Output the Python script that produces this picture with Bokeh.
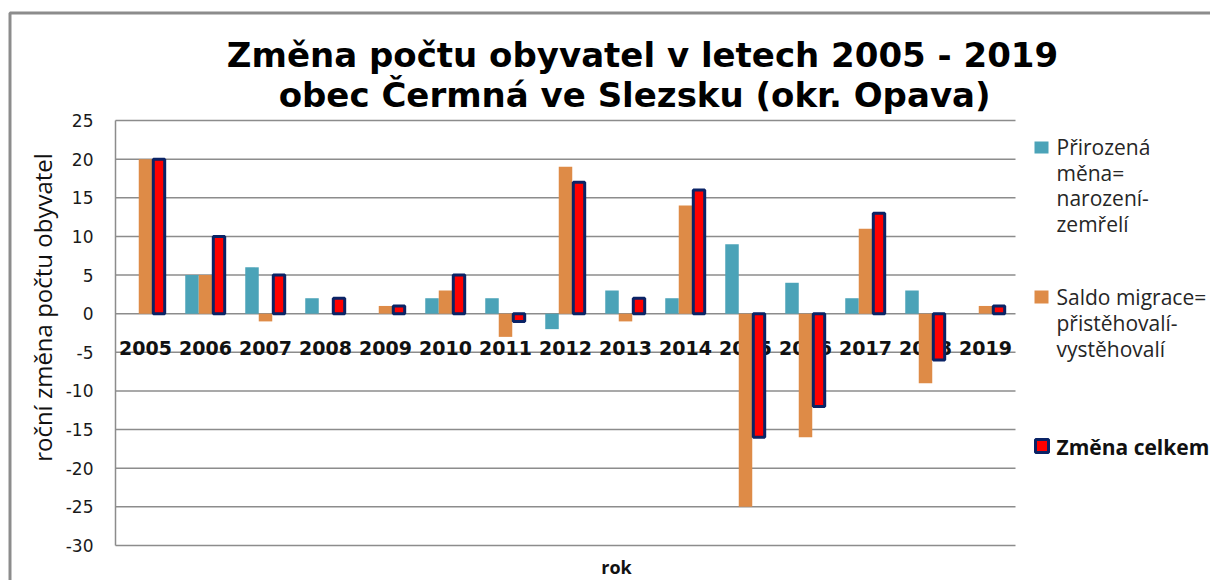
import math
from bokeh.plotting import figure
from bokeh.models import Range1d, Label, BoxAnnotation, ColumnDataSource, FixedTicker
from bokeh.transform import dodge
from bokeh.core.properties import value
from bokeh.embed import file_html
from bokeh.resources import INLINE

years = ["2005", "2006", "2007", "2008", "2009", "2010", "2011", "2012",
         "2013", "2014", "2015", "2016", "2017", "2018", "2019"]
natural = [0, 5, 6, 2, 0, 2, 2, -2, 3, 2, 9, 4, 2, 3, 0]
migration = [20, 5, -1, 0, 1, 3, -3, 19, -1, 14, -25, -16, 11, -9, 1]
total = [20, 10, 5, 2, 1, 5, -1, 17, 2, 16, -16, -12, 13, -6, 1]
y_ticks = [-30, -25, -20, -15, -10, -5, 0, 5, 10, 15, 20, 25]

title_lines = ["Změna počtu obyvatel v letech 2005 - 2019",
               "obec  Čermná ve Slezsku (okr. Opava)"]
y_label = "roční změna počtu obyvatel"
x_label = "rok"
legend_natural = ["Přirozená", "měna=", "narození-", "zemřelí"]
legend_migration = ["Saldo migrace=", "přistěhovalí-", "vystěhovalí"]
legend_total = "Změna celkem"

TEAL = "#4BA3B8"
ORANGE = "#DE8B47"
RED = "#FF0000"
NAVY = "#0A2366"
GRID = "#8C8C8C"

# ---- layout: pixel <-> data mapping (whole canvas is the frame) ----
W, H = 1210, 580
PX_X0, CAT_PX = 115.0, 60.0          # left of first category, width of one category
PX_Y_TOP, PX_Y_BOT = 120.0, 545.0    # pixel rows of 25 and -30
Y_TOP, Y_BOT = 25.0, -30.0
PPU = (PX_Y_BOT - PX_Y_TOP) / (Y_TOP - Y_BOT)


def xd(px):
    return (px - PX_X0) / CAT_PX


def yd(py):
    return Y_TOP - (py - PX_Y_TOP) / PPU


p = figure(width=W, height=H, x_range=Range1d(xd(0), xd(W)), y_range=Range1d(yd(H), yd(0)),
           output_backend="svg", toolbar_location=None, min_border=0)
p.title.visible = False
p.outline_line_color = None
p.background_fill_color = "white"
p.border_fill_color = "white"
p.xaxis.visible = False
p.grid.visible = False

yax = p.yaxis[0]
yax.fixed_location = 0
yax.bounds = (Y_BOT, Y_TOP)
yax.ticker = FixedTicker(ticks=y_ticks)
yax.major_label_overrides = {t: str(t) for t in y_ticks}
yax.axis_line_color = GRID
yax.axis_line_width = 1.5
yax.major_tick_line_color = None
yax.minor_tick_line_color = None
yax.major_tick_out = 0
yax.major_tick_in = 0
yax.major_label_standoff = 22
yax.major_label_text_font = "DejaVu Sans"
yax.major_label_text_font_size = "17px"
yax.major_label_text_color = "#1a1a1a"

n = len(years)
src = ColumnDataSource(dict(year=years, xc=[i + 0.5 for i in range(n)],
                            natural=natural, migration=migration, total=total))

# horizontal grid lines over the category area
p.segment(x0=0, x1=n, y0=y_ticks, y1=y_ticks, line_color=GRID, line_width=1.5)

# year labels along the zero line (drawn beneath the bars)
p.text(x="xc", y=0, text="year", source=src, text_align="center",
       text_baseline="middle", y_offset=34, text_font=value("DejaVu Sans"),
       text_font_style="bold", text_font_size="19px", text_color="#111111")

p.vbar(x=dodge("xc", -0.225), top="natural", width=0.225,
       source=src, fill_color=TEAL, line_color=None)
p.vbar(x=dodge("xc", 0.0), top="migration", width=0.225,
       source=src, fill_color=ORANGE, line_color=None)
p.vbar(x=dodge("xc", 0.225), top="total", width=0.19,
       source=src, fill_color=RED, line_color=NAVY, line_width=3)


def label(px, py, text, size, bold=False, align="left", color="#111111",
          font="Open Sans", angle=0.0):
    p.add_layout(Label(x=xd(px), y=yd(py), text=text, text_align=align,
                       text_baseline="middle", text_font=font,
                       text_font_style="bold" if bold else "normal",
                       text_font_size=size, text_color=color, angle=angle))


def box(l, r, t, b, fill, line=None, lw=0):
    p.add_layout(BoxAnnotation(left=xd(l), right=xd(r), top=yd(t), bottom=yd(b),
                               fill_color=fill, fill_alpha=1 if fill else 0,
                               line_color=line, line_width=lw, line_alpha=1))


# titles
label(642, 54, title_lines[0], "34px", bold=True, align="center", color="#000000",
      font="DejaVu Sans")
label(640, 94, title_lines[1], "34px", bold=True, align="center", color="#000000",
      font="DejaVu Sans")

# axis names
label(42, 307, y_label, "24px", align="center", angle=math.pi / 2)
label(616, 566, x_label, "18px", bold=True, align="center")

# legend
box(1034, 1048, 141, 153, TEAL)
box(1034, 1048, 290, 303, ORANGE)
box(1035, 1048, 439, 452, RED, NAVY, 3)
for i, t in enumerate(legend_natural):
    label(1056, 146.5 + 25.7 * i, t, "21px", color="#262626")
for i, t in enumerate(legend_migration):
    label(1056, 296.5 + 26 * i, t, "21px", color="#262626")
label(1056, 446.5, legend_total, "21px", bold=True)

# outer chart border
box(9.5, W + 50, 12.5, H + 50, None, GRID, 3)

open("out.html", "w").write(file_html(p, INLINE))
